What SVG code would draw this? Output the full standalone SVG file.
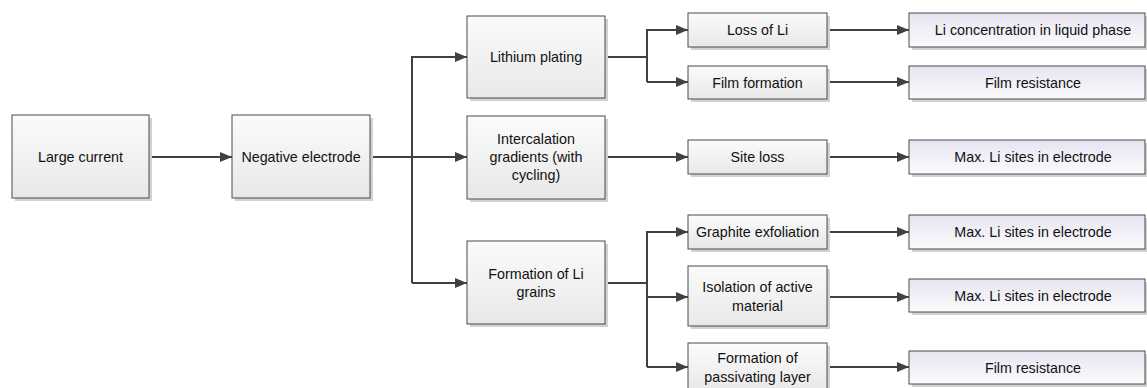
<svg xmlns="http://www.w3.org/2000/svg" width="1147" height="388" viewBox="0 0 1147 388">
<defs>
<linearGradient id="gGray" x1="0" y1="0" x2="0" y2="1">
<stop offset="0" stop-color="#fbfbfb"/>
<stop offset="1" stop-color="#e8e8e8"/>
</linearGradient>
<linearGradient id="gLav" x1="0" y1="0" x2="0" y2="1">
<stop offset="0" stop-color="#e7e4f1"/>
<stop offset="1" stop-color="#fbfbfd"/>
</linearGradient>
<marker id="arr" markerUnits="userSpaceOnUse" markerWidth="13" markerHeight="11" refX="12" refY="5" orient="auto">
<path d="M0,0 L12,5 L0,10 z" fill="#404040"/>
</marker>
</defs>
<style>
.sh{fill:#d2d2d2;}
.box{fill:url(#gGray);stroke:#4a4a4a;stroke-width:1;}
.fin{fill:url(#gLav);stroke:#4a4a4a;stroke-width:1;}
text{font-family:"Liberation Sans",Arial,sans-serif;font-size:14.3px;fill:#111111;text-anchor:middle;dominant-baseline:central;}
.c{fill:none;stroke:#404040;stroke-width:2;}
</style>
<rect width="1147" height="388" fill="#ffffff"/>

<g id="connectors">
<path class="c" d="M149,157 H232" marker-end="url(#arr)"/>
<path class="c" d="M370,157 H467" marker-end="url(#arr)"/>
<path class="c" d="M412,283 V57 H467" marker-end="url(#arr)"/>
<path class="c" d="M412,283 H467" marker-end="url(#arr)"/>
<path class="c" d="M605,57 H647"/>
<path class="c" d="M647,82 V30 H688" marker-end="url(#arr)"/>
<path class="c" d="M647,82 H688" marker-end="url(#arr)"/>
<path class="c" d="M605,157 H688" marker-end="url(#arr)"/>
<path class="c" d="M605,283 H647"/>
<path class="c" d="M647,367 V232 H688" marker-end="url(#arr)"/>
<path class="c" d="M647,297 H688" marker-end="url(#arr)"/>
<path class="c" d="M647,367 H688" marker-end="url(#arr)"/>
<path class="c" d="M827,30 H909" marker-end="url(#arr)"/>
<path class="c" d="M827,82 H909" marker-end="url(#arr)"/>
<path class="c" d="M827,157 H909" marker-end="url(#arr)"/>
<path class="c" d="M827,232 H909" marker-end="url(#arr)"/>
<path class="c" d="M827,297 H909" marker-end="url(#arr)"/>
<path class="c" d="M827,367 H909" marker-end="url(#arr)"/>
</g>

<g id="n-large"><rect class="sh" x="15" y="118" width="137" height="83"/><rect class="box" x="12" y="115" width="137" height="83"/><text x="80.5" y="157">Large current</text></g>
<g id="n-neg"><rect class="sh" x="235" y="118" width="138" height="83"/><rect class="box" x="232" y="115" width="138" height="83"/><text x="301" y="157">Negative electrode</text></g>
<g id="n-plating"><rect class="sh" x="470" y="19" width="138" height="82"/><rect class="box" x="467" y="16" width="138" height="82"/><text x="536" y="57">Lithium plating</text></g>
<g id="n-intercal"><rect class="sh" x="470" y="119" width="138" height="83"/><rect class="box" x="467" y="116" width="138" height="83"/><text x="536" y="139">Intercalation</text><text x="536" y="157">gradients (with</text><text x="536" y="175">cycling)</text></g>
<g id="n-grains"><rect class="sh" x="470" y="244" width="138" height="83"/><rect class="box" x="467" y="241" width="138" height="83"/><text x="536" y="274">Formation of Li</text><text x="536" y="292">grains</text></g>

<g id="n-loss"><rect class="sh" x="691" y="16" width="139" height="34"/><rect class="box" x="688" y="13" width="139" height="34"/><text x="757.5" y="30">Loss of Li</text></g>
<g id="n-film"><rect class="sh" x="691" y="69" width="139" height="33"/><rect class="box" x="688" y="66" width="139" height="33"/><text x="757.5" y="82.5">Film formation</text></g>
<g id="n-site"><rect class="sh" x="691" y="143" width="139" height="34"/><rect class="box" x="688" y="140" width="139" height="34"/><text x="757.5" y="157">Site loss</text></g>
<g id="n-graphite"><rect class="sh" x="691" y="218" width="139" height="34"/><rect class="box" x="688" y="215" width="139" height="34"/><text x="757.5" y="232">Graphite exfoliation</text></g>
<g id="n-isolation"><rect class="sh" x="691" y="269" width="139" height="60"/><rect class="box" x="688" y="266" width="139" height="60"/><text x="757.5" y="287">Isolation of active</text><text x="757.5" y="306">material</text></g>
<g id="n-passiv"><rect class="sh" x="691" y="346" width="139" height="50"/><rect class="box" x="688" y="343" width="139" height="50"/><text x="757.5" y="358">Formation of</text><text x="757.5" y="377">passivating layer</text></g>

<g id="f-liconc"><rect class="sh" x="912" y="16" width="236" height="34"/><rect class="fin" x="909" y="13" width="236" height="34"/><text x="1033" y="30">Li concentration in liquid phase</text></g>
<g id="f-film1"><rect class="sh" x="912" y="69" width="236" height="33"/><rect class="fin" x="909" y="66" width="236" height="33"/><text x="1033" y="82.5">Film resistance</text></g>
<g id="f-max1"><rect class="sh" x="912" y="143" width="236" height="34"/><rect class="fin" x="909" y="140" width="236" height="34"/><text x="1033" y="157">Max. Li sites in electrode</text></g>
<g id="f-max2"><rect class="sh" x="912" y="218" width="236" height="34"/><rect class="fin" x="909" y="215" width="236" height="34"/><text x="1033" y="232">Max. Li sites in electrode</text></g>
<g id="f-max3"><rect class="sh" x="912" y="282" width="236" height="33"/><rect class="fin" x="909" y="279" width="236" height="33"/><text x="1033" y="296">Max. Li sites in electrode</text></g>
<g id="f-film2"><rect class="sh" x="912" y="354" width="236" height="33"/><rect class="fin" x="909" y="351" width="236" height="33"/><text x="1033" y="367.5">Film resistance</text></g>
</svg>
